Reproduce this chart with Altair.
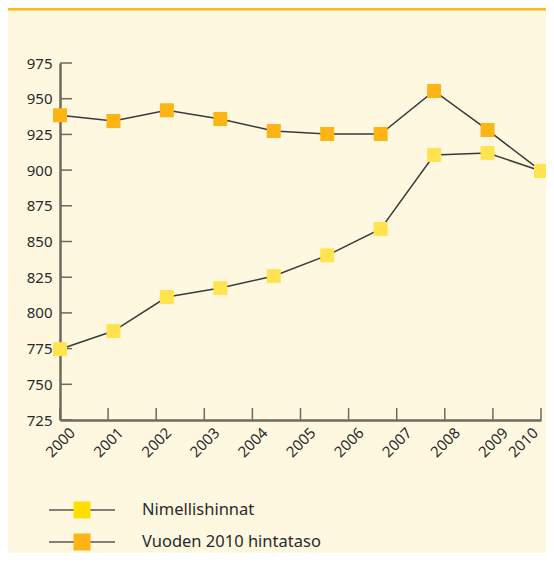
import altair as alt
import pandas as pd

series_names = ["Nimellishinnat", "Vuoden 2010 hintataso"]
point_index = list(range(10))
nominal = [774.6, 787.3, 811.1, 817.4, 825.8, 840.3, 858.8, 910.6, 912.0, 899.4]
real2010 = [938.4, 934.4, 941.9, 935.8, 927.4, 925.3, 925.3, 955.4, 928.1, 899.4]
axis_years = list(range(2000, 2011))
y_ticks = list(range(725, 1000, 25))

point_colors = ["#FFE34F", "#FDB515"]
legend_colors = ["#FFDF00", "#FDB515"]

BG = "#FEF8E1"
AXIS_COLOR = "#6E6A5E"
LINE_COLOR = "#3A3A3A"
FONT = "Noto Sans"
W, H = 481, 357
PAD = {"left": 52, "top": 55, "right": 5, "bottom": 133}

rows = []
for name, vals, order in [(series_names[1], real2010, 0), (series_names[0], nominal, 1)]:
    for i, v in zip(point_index, vals):
        rows.append({"idx": i, "value": v, "series": name, "order": order})
df = pd.DataFrame(rows)

yscale = alt.Scale(domain=[725, 975], nice=False, zero=False)
y_axis = alt.Axis(values=y_ticks, title=None, ticks=False, grid=False,
                  domainColor=AXIS_COLOR, domainWidth=2.5, labelPadding=8,
                  labelFont=FONT, labelFontSize=15, labelColor="#2A2A2A")
xscale_idx = alt.Scale(domain=[0, 9], nice=False, zero=False)

color_scale = alt.Scale(domain=series_names, range=point_colors)

# top decorative orange line
top_rule = alt.Chart(pd.DataFrame({"a": [0]})).mark_rule(
    color="#FDB813", strokeWidth=3
).encode(x=alt.value(-PAD["left"]), x2=alt.value(W + PAD["right"]), y=alt.value(-PAD["top"] + 1))

last_year = axis_years[-1]
is_last = f"datum.value == {last_year}"
# x axis ticks (pointing up) with labels
years_df = pd.DataFrame({"year": axis_years})
x_ticks = alt.Chart(years_df).mark_rule(color=AXIS_COLOR, strokeWidth=1.5).encode(
    x=alt.X("year:Q", scale=alt.Scale(domain=[2000, 2010], nice=False, zero=False),
            axis=alt.Axis(values=axis_years, format="d", title=None, ticks=False, grid=False,
                          domainColor=AXIS_COLOR, domainWidth=2.5,
                          labelAngle=315,
                          labelAlign={"condition": {"test": is_last, "value": "right"}, "value": "center"},
                          labelBaseline="middle",
                          labelPadding={"condition": {"test": is_last, "value": 10}, "value": 22},
                          labelOffset={"condition": {"test": is_last, "value": -6}, "value": 0},
                          labelFont=FONT, labelFontSize=15,
                          labelColor="#2A2A2A", labelOverlap=False, labelFlush=False)),
    y=alt.value(H - 12), y2=alt.value(H),
)

# y axis ticks (pointing right)
yt_df = pd.DataFrame({"tick": y_ticks})
y_tick_layer = alt.Chart(yt_df).mark_rule(color=AXIS_COLOR, strokeWidth=1.5).encode(
    y=alt.Y("tick:Q", scale=yscale, axis=y_axis),
    x=alt.value(0), x2=alt.value(12),
)

base = alt.Chart(df).encode(
    x=alt.X("idx:Q", scale=xscale_idx, axis=None),
    y=alt.Y("value:Q", scale=yscale, axis=y_axis),
)
lines = base.mark_line(color=LINE_COLOR, strokeWidth=1.5).encode(detail="series:N")
pts_orange = base.transform_filter(alt.datum.order == 0).mark_square(size=196, opacity=1).encode(
    color=alt.Color("series:N", scale=color_scale, legend=None))
pts_yellow = base.transform_filter(alt.datum.order == 1).mark_square(size=196, opacity=1).encode(
    color=alt.Color("series:N", scale=color_scale, legend=None))

# manual legend
legend_layers = []
leg_y = [447, 479]
for name, col, ly in zip(series_names, legend_colors, leg_y):
    d = pd.DataFrame({"series": [name]})
    legend_layers.append(alt.Chart(d).mark_rule(color="#5A5750", strokeWidth=1.5).encode(
        x=alt.value(-11), x2=alt.value(55), y=alt.value(ly)))
    legend_layers.append(alt.Chart(d).mark_square(size=289, opacity=1, color=col).encode(
        x=alt.value(22), y=alt.value(ly)))
    legend_layers.append(alt.Chart(d).mark_text(
        align="left", baseline="middle", font=FONT, fontSize=16.5, color="#2A2A2A"
    ).encode(text="series:N", x=alt.value(82), y=alt.value(ly)))

chart = alt.layer(
    top_rule, x_ticks, y_tick_layer, lines, pts_orange, pts_yellow, *legend_layers
).resolve_scale(x="independent").properties(
    width=W, height=H,
    background=BG,
    padding=PAD,
    autosize=alt.AutoSizeParams(type="none"),
).configure_view(stroke=None)

chart.save("out.html", embed_options={"renderer": "svg", "actions": False})
